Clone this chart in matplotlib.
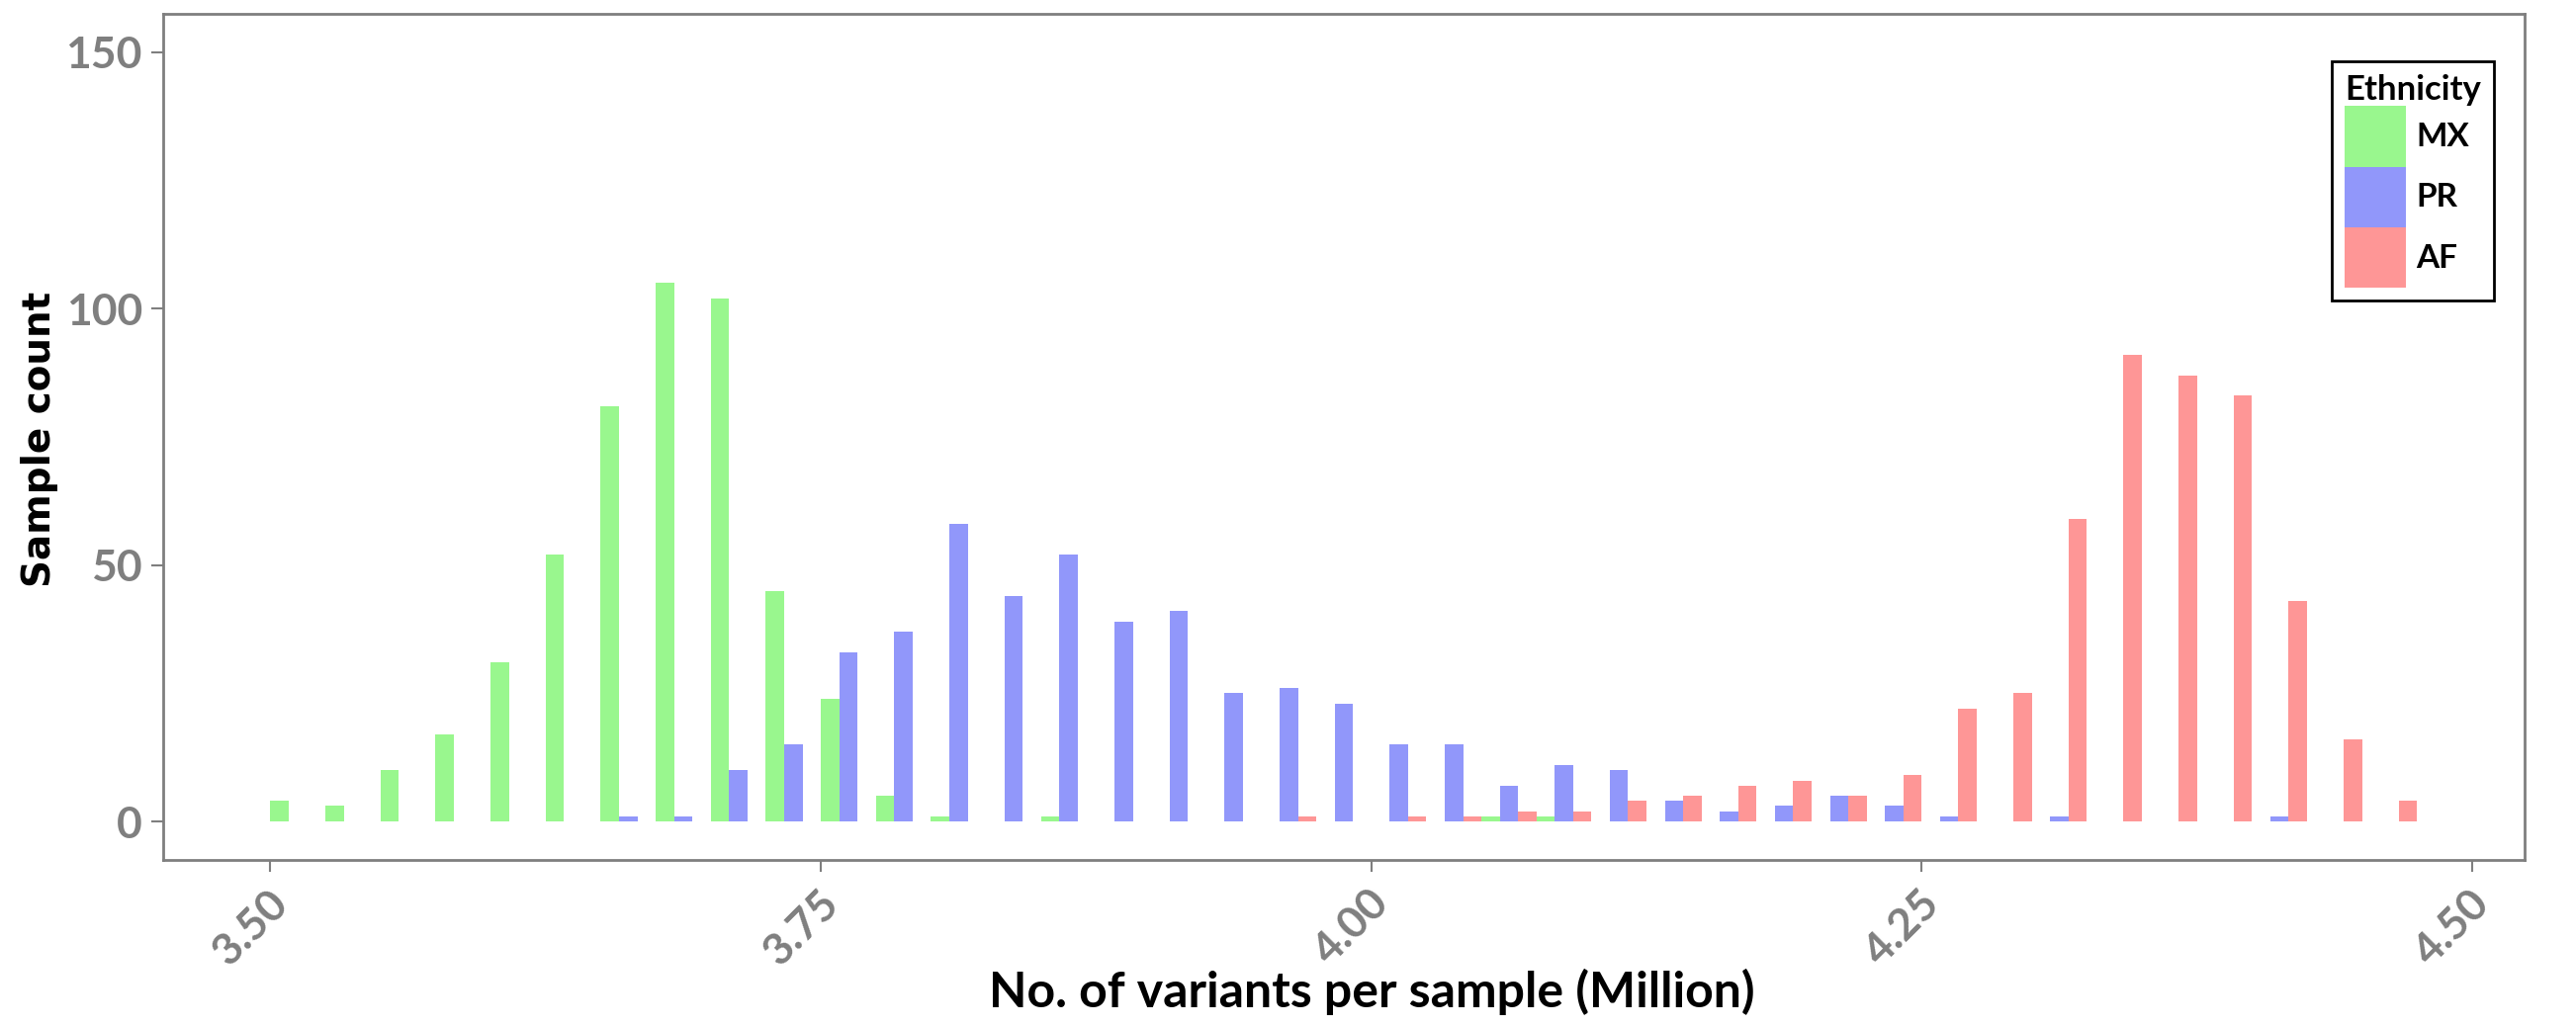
import numpy as np
import matplotlib
matplotlib.use('Agg')
import matplotlib.pyplot as plt
from matplotlib.transforms import ScaledTranslation

# histogram bins (million variants per sample), 0.025 wide
bin_start = 3.50
bin_width = 0.025
n_bins = 39
bin_left = np.round(bin_start + bin_width * np.arange(n_bins), 3)

groups = ['MX', 'PR', 'AF']
colors = ['#99F78E', '#9197FA', '#FE9696']

mx_counts = [4, 3, 10, 17, 31, 52, 81, 105, 102, 45, 24, 5, 1, 0, 1, 0, 0, 0, 0, 0,
             0, 0, 1, 1, 0, 0, 0, 0, 0, 0, 0, 0, 0, 0, 0, 0, 0, 0, 0]
pr_counts = [0, 0, 0, 0, 0, 0, 1, 1, 10, 15, 33, 37, 58, 44, 52, 39, 41, 25, 26, 23,
             15, 15, 7, 11, 10, 4, 2, 3, 5, 3, 1, 0, 1, 0, 0, 0, 1, 0, 0]
af_counts = [0, 0, 0, 0, 0, 0, 0, 0, 0, 0, 0, 0, 0, 0, 0, 0, 0, 0, 1, 0,
             1, 1, 2, 2, 4, 5, 7, 8, 5, 9, 22, 25, 59, 91, 87, 83, 43, 16, 4]

x_ticks = [3.50, 3.75, 4.00, 4.25, 4.50]
x_ticklabels = ['3.50', '3.75', '4.00', '4.25', '4.50']
y_ticks = [0, 50, 100, 150]

GREY = '#7f7f7f'

fig = plt.figure(figsize=(26.05, 10.39), dpi=100)
ax = fig.add_axes([0.0633, 0.1627, 0.9167, 0.8238])

# dodged bars: each bin split into three slots
w = bin_width / 3
for k, (name, counts) in enumerate(zip(groups, [mx_counts, pr_counts, af_counts])):
    ax.bar(bin_left + k * w, counts, width=w, align='edge',
           color=colors[k], linewidth=0, label=name)

span = bin_left[-1] + bin_width - bin_left[0]
ax.set_xlim(bin_left[0] - 0.05 * span, bin_left[-1] + bin_width + 0.05 * span)
ax.set_ylim(-7.5, 157.5)

ax.set_xticks(x_ticks)
ax.set_xticklabels(x_ticklabels, rotation=45, ha='right', va='top',
                   rotation_mode='anchor', family='Lato', fontweight='bold', fontsize=32)
ax.set_yticks(y_ticks)
ax.set_yticklabels([str(v) for v in y_ticks], family='Lato', fontweight='bold', fontsize=32)
ax.tick_params(axis='both', length=8.6, width=1.5, color=GREY, labelcolor=GREY)
ax.tick_params(axis='y', pad=6.5)
ax.tick_params(axis='x', pad=8)

offset = ScaledTranslation(-0.03, 0, fig.dpi_scale_trans)
for lab in ax.get_xticklabels():
    lab.set_transform(lab.get_transform() + offset)

for sp in ax.spines.values():
    sp.set_color(GREY)
    sp.set_linewidth(2)

ax.set_xlabel('No. of variants per sample (Million)', family='Lato',
              fontweight='bold', fontsize=36, color='black')
ax.xaxis.set_label_coords(0.512, -0.128)
ax.set_ylabel('Sample count', family='DejaVu Sans', fontweight='bold',
              fontsize=28, color='black', va='center')
ax.yaxis.set_label_coords(-0.0523, 0.4977)

leg_fs = 24
leg = ax.legend(title='Ethnicity', loc='upper left', bbox_to_anchor=(0.9183, 0.9439),
                borderaxespad=0, fancybox=False, framealpha=1, edgecolor='black',
                prop={'family': 'Lato', 'weight': 'bold', 'size': leg_fs},
                title_fontproperties={'family': 'Lato', 'weight': 'bold', 'size': 25},
                handlelength=1.86, handleheight=2.45, labelspacing=0,
                handletextpad=0.3, borderpad=0.4, alignment='left')
leg.get_frame().set_linewidth(2)

fig.savefig('out.png', dpi=100, facecolor='white')
